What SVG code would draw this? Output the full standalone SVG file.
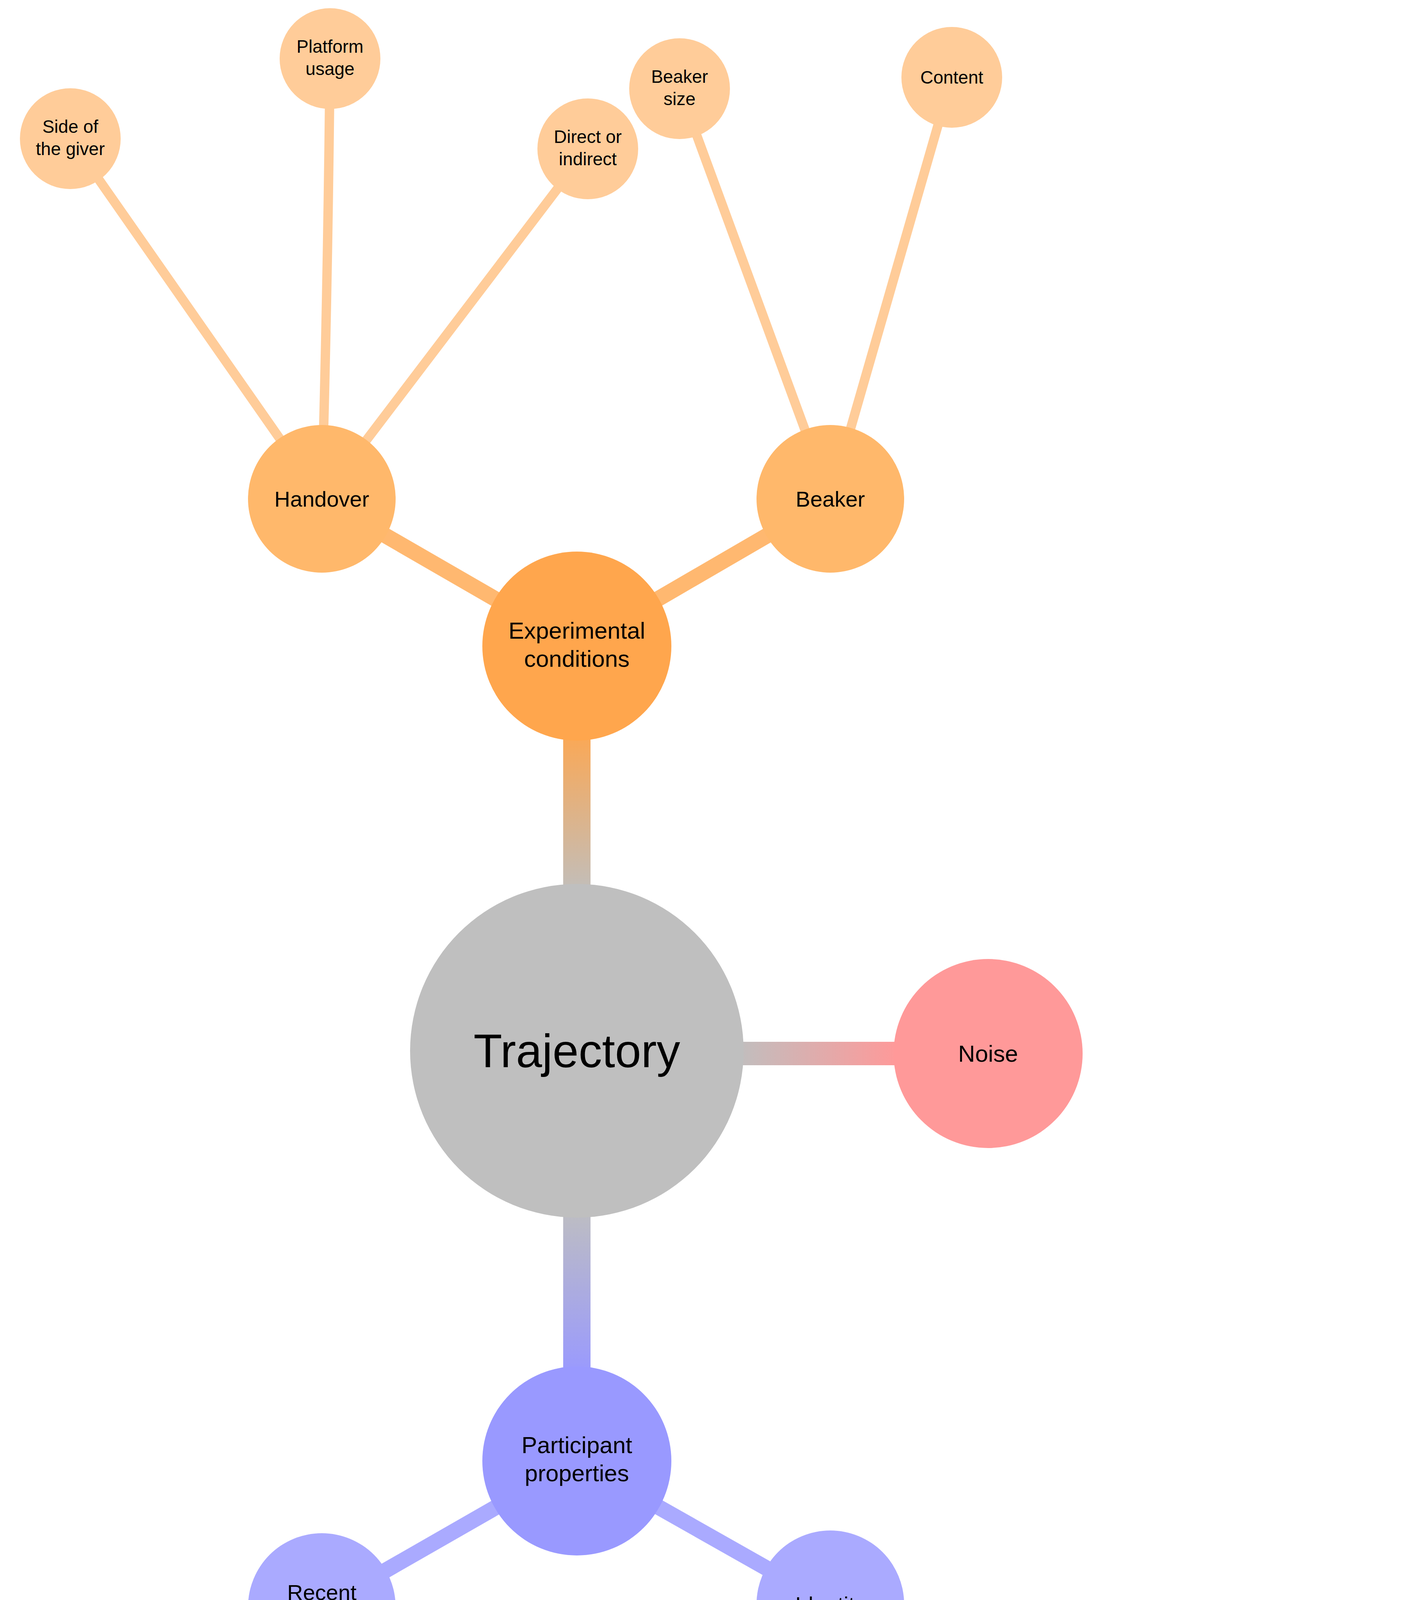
<svg xmlns="http://www.w3.org/2000/svg" width="3600" height="5744" viewBox="0 0 3600 5744">
<style>
text{font-family:"Liberation Sans","DejaVu Sans",sans-serif;text-anchor:middle;fill:#000}
.t0{font-size:120px}.t1{font-size:60px}.t2{font-size:56px}.t3{font-size:46px}.t4{font-size:40px}
.c{fill:none;stroke-linecap:round}
.o2{stroke:#FFB870}.o3{stroke:#FFCC99}.b2{stroke:#AAAAFF}.b3{stroke:#B3B3FF}.b4{stroke:#D0D0FF}
</style>
<defs>
<linearGradient id="gE" gradientUnits="userSpaceOnUse" x1="0" y1="2300" x2="0" y2="1850"><stop offset="0" stop-color="#BFBFBF"/><stop offset="1" stop-color="#FFA64D"/></linearGradient>
<linearGradient id="gN" gradientUnits="userSpaceOnUse" x1="1880" y1="0" x2="2300" y2="0"><stop offset="0" stop-color="#BFBFBF"/><stop offset="1" stop-color="#FF9999"/></linearGradient>
<linearGradient id="gP" gradientUnits="userSpaceOnUse" x1="0" y1="3080" x2="0" y2="3520"><stop offset="0" stop-color="#BFBFBF"/><stop offset="1" stop-color="#9999FF"/></linearGradient>
</defs>
<g id="connectors">
<path class="c" d="M1477 2400 L1477 1800" stroke="url(#gE)" stroke-width="70"/>
<path class="c" d="M1800 2697 L2350 2697" stroke="url(#gN)" stroke-width="60"/>
<path class="c" d="M1477 3000 L1477 3550" stroke="url(#gP)" stroke-width="70"/>
<path class="c o2" d="M1477 1654 L824 1277" stroke-width="40"/>
<path class="c o2" d="M1477 1654 L2126 1277" stroke-width="40"/>
<path class="c o3" d="M824 1277 L180 355" stroke-width="24"/>
<path class="c o3" d="M824 1277 Q840 700 845 150" stroke-width="24"/>
<path class="c o3" d="M824 1277 L1505 381" stroke-width="24"/>
<path class="c o3" d="M2126 1277 L1740 227" stroke-width="24"/>
<path class="c o3" d="M2126 1277 L2437 198" stroke-width="24"/>
<path class="c b2" d="M1477 3740 L824 4114" stroke-width="40"/>
<path class="c b2" d="M1477 3740 L2126 4107" stroke-width="40"/>
<path class="c b3" d="M824 4114 L824 5234" stroke-width="26"/>
<path class="c b3" d="M2126 4107 L1292 4860" stroke-width="26"/>
<path class="c b3" d="M2126 4107 L1893 5212" stroke-width="26"/>
<path class="c b3" d="M2126 4107 L2587 5168" stroke-width="26"/>
<path class="c b3" d="M2126 4107 L3091 4684" stroke-width="26"/>
<path class="c b4" d="M1292 4860 L1290 5256" stroke-width="18"/>
<path class="c b4" d="M1893 5212 L1893 5592" stroke-width="18"/>
<path class="c b4" d="M2587 5168 L2209 5234 M2587 5168 L2303 5417 M2587 5168 L2488 5490 M2587 5168 L2678 5525 M2587 5168 L2850 5424 M2587 5168 L2951 5249" stroke-width="18"/>
<path class="c b4" d="M3091 4684 L2714 4782 M3091 4684 L2814 4958 M3091 4684 L2990 5059 M3091 4684 L3192 5059 M3091 4684 L3367 4958 M3091 4684 L3469 4782" stroke-width="18"/>
</g>
<g id="trajectory"><circle cx="1477" cy="2690" r="427" fill="#BFBFBF"/><text class="t0" x="1477" y="2732">Trajectory</text></g>
<g id="noise"><circle cx="2530" cy="2697" r="242" fill="#FF9999"/><text class="t1" x="2530" y="2718">Noise</text></g>
<g id="experimental"><circle cx="1477" cy="1654" r="242" fill="#FFA64D"/><text class="t1" x="1477" y="1635">Experimental</text><text class="t1" x="1477" y="1707">conditions</text></g>
<g id="handover"><circle cx="824" cy="1277" r="189" fill="#FFB86B"/><text class="t2" x="824" y="1297">Handover</text></g>
<g id="beaker"><circle cx="2126" cy="1277" r="189" fill="#FFB86B"/><text class="t2" x="2126" y="1297">Beaker</text></g>
<g id="side"><circle cx="180" cy="355" r="129" fill="#FFCC99"/><text class="t3" x="180" y="340">Side of</text><text class="t3" x="180" y="397">the giver</text></g>
<g id="platform"><circle cx="845" cy="150" r="129" fill="#FFCC99"/><text class="t3" x="845" y="135">Platform</text><text class="t3" x="845" y="192">usage</text></g>
<g id="direct"><circle cx="1505" cy="381" r="129" fill="#FFCC99"/><text class="t3" x="1505" y="366">Direct or</text><text class="t3" x="1505" y="423">indirect</text></g>
<g id="beakersize"><circle cx="1740" cy="227" r="129" fill="#FFCC99"/><text class="t3" x="1740" y="212">Beaker</text><text class="t3" x="1740" y="269">size</text></g>
<g id="content"><circle cx="2437" cy="198" r="129" fill="#FFCC99"/><text class="t3" x="2437" y="214">Content</text></g>
<g id="participant"><circle cx="1477" cy="3740" r="242" fill="#9999FF"/><text class="t1" x="1477" y="3720">Participant</text><text class="t1" x="1477" y="3792">properties</text></g>
<g id="recent"><circle cx="824" cy="4114" r="189" fill="#AAAAFF"/><text class="t2" x="824" y="4096">Recent</text><text class="t2" x="824" y="4164">state</text></g>
<g id="identity"><circle cx="2126" cy="4107" r="189" fill="#AAAAFF"/><text class="t2" x="2126" y="4127">Identity</text></g>
<g id="time"><circle cx="824" cy="5234" r="145" fill="#B3B3FF"/><text class="t3" x="824" y="5190">Time</text><text class="t3" x="824" y="5248">since</text><text class="t3" x="824" y="5306">last meal</text></g>
<g id="cultural"><circle cx="1292" cy="4860" r="135" fill="#B3B3FF"/><text class="t3" x="1292" y="4845">Cultural</text><text class="t3" x="1292" y="4902">factor</text></g>
<g id="interpersonal"><circle cx="1893" cy="5212" r="140" fill="#B3B3FF"/><text class="t3" x="1893" y="5168">Inter-</text><text class="t3" x="1893" y="5226">personal</text><text class="t3" x="1893" y="5284">factor</text></g>
<g id="psychological"><circle cx="2587" cy="5168" r="140" fill="#B3B3FF"/><text class="t3" x="2587" y="5124">Psycho-</text><text class="t3" x="2587" y="5182">logical</text><text class="t3" x="2587" y="5240">factors</text></g>
<g id="physical"><circle cx="3091" cy="4684" r="130" fill="#B3B3FF"/><text class="t3" x="3091" y="4669">Physical</text><text class="t3" x="3091" y="4726">factors</text></g>
<g id="citizenship"><circle cx="1290" cy="5256" r="100" fill="#E6E6FF"/><text class="t4" x="1290" y="5244">Citizen-</text><text class="t4" x="1290" y="5294">ship</text></g>
<g id="familiarity"><circle cx="1893" cy="5592" r="100" fill="#E6E6FF"/><text class="t4" x="1893" y="5580">Familia-</text><text class="t4" x="1893" y="5630">rity</text></g>
<g id="neuroticism"><circle cx="2209" cy="5234" r="100" fill="#E6E6FF"/><text class="t4" x="2209" y="5222">Neuroti-</text><text class="t4" x="2209" y="5272">cism</text></g>
<g id="agreeableness"><circle cx="2303" cy="5417" r="100" fill="#E6E6FF"/><text class="t4" x="2303" y="5405">Agree-</text><text class="t4" x="2303" y="5455">ableness</text></g>
<g id="extraversion"><circle cx="2488" cy="5490" r="100" fill="#E6E6FF"/><text class="t4" x="2488" y="5478">Extra-</text><text class="t4" x="2488" y="5528">version</text></g>
<g id="conscientiousness"><circle cx="2678" cy="5525" r="100" fill="#E6E6FF"/><text class="t4" x="2678" y="5488">Con-</text><text class="t4" x="2678" y="5538">scient-</text><text class="t4" x="2678" y="5588">iousness</text></g>
<g id="openness"><circle cx="2850" cy="5424" r="100" fill="#E6E6FF"/><text class="t4" x="2850" y="5438">Openness</text></g>
<g id="profession"><circle cx="2951" cy="5249" r="100" fill="#E6E6FF"/><text class="t4" x="2951" y="5237">Pro-</text><text class="t4" x="2951" y="5287">fession</text></g>
<g id="sportiness"><circle cx="2714" cy="4782" r="100" fill="#E6E6FF"/><text class="t4" x="2714" y="4770">Sporti-</text><text class="t4" x="2714" y="4820">ness</text></g>
<g id="weight"><circle cx="2814" cy="4958" r="100" fill="#E6E6FF"/><text class="t4" x="2814" y="4972">Weight</text></g>
<g id="bodysize"><circle cx="2990" cy="5059" r="100" fill="#E6E6FF"/><text class="t4" x="2990" y="5047">Body</text><text class="t4" x="2990" y="5097">size</text></g>
<g id="age"><circle cx="3192" cy="5059" r="100" fill="#E6E6FF"/><text class="t4" x="3192" y="5073">Age</text></g>
<g id="gender"><circle cx="3367" cy="4958" r="100" fill="#E6E6FF"/><text class="t4" x="3367" y="4972">Gender</text></g>
<g id="medical"><circle cx="3469" cy="4782" r="100" fill="#E6E6FF"/><text class="t4" x="3469" y="4770">Medical</text><text class="t4" x="3469" y="4820">history</text></g>
</svg>
